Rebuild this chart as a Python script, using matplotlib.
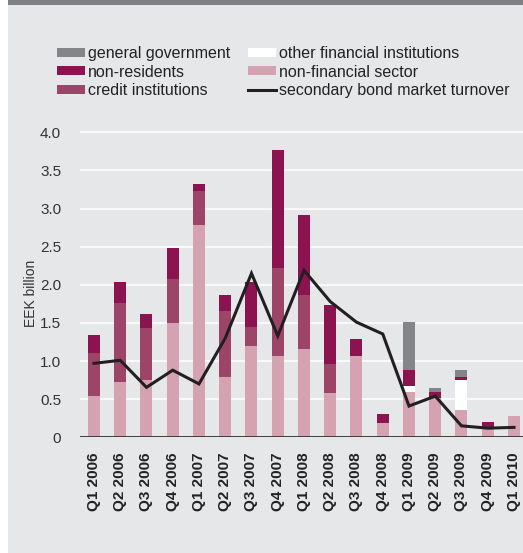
import matplotlib
matplotlib.use("Agg")
import numpy as np
import matplotlib.pyplot as plt
from matplotlib.patches import Patch, Rectangle
from matplotlib.lines import Line2D

plt.rcParams['font.family'] = ['Liberation Sans', 'DejaVu Sans']

# quarters
quarters = ["Q1 2006", "Q2 2006", "Q3 2006", "Q4 2006",
            "Q1 2007", "Q2 2007", "Q3 2007", "Q4 2007",
            "Q1 2008", "Q2 2008", "Q3 2008", "Q4 2008",
            "Q1 2009", "Q2 2009", "Q3 2009", "Q4 2009",
            "Q1 2010"]

# segments of the stacked bars, EEK billion
non_financial = [0.54, 0.725, 0.75, 1.50, 2.78, 0.79, 1.20, 1.07,
                 1.16, 0.58, 1.07, 0.19, 0.595, 0.515, 0.36, 0.135, 0.28]
other_financial = [0, 0, 0, 0, 0, 0, 0, 0,
                   0, 0, 0, 0, 0.075, 0, 0.39, 0, 0]
credit_inst = [0.565, 1.035, 0.68, 0.58, 0.45, 0.87, 0.25, 1.15,
               0.71, 0.38, 0, 0, 0, 0, 0, 0, 0]
non_residents = [0.235, 0.28, 0.19, 0.40, 0.09, 0.21, 0.59, 1.55,
                 1.05, 0.78, 0.22, 0.12, 0.21, 0.08, 0.04, 0.065, 0]
general_gov = [0, 0, 0, 0, 0, 0, 0, 0,
               0, 0, 0, 0, 0.63, 0.05, 0.09, 0, 0]

# line
turnover = [0.97, 1.01, 0.655, 0.88, 0.70, 1.30, 2.15, 1.33,
            2.19, 1.78, 1.51, 1.355, 0.41, 0.54, 0.15, 0.12, 0.13]

yticks = [0, 0.5, 1.0, 1.5, 2.0, 2.5, 3.0, 3.5, 4.0]
ytick_labels = ["0", "0.5", "1.0", "1.5", "2.0", "2.5", "3.0", "3.5", "4.0"]

bg = '#e6e7e9'
c_gov = '#848589'
c_nonres = '#8b1450'
c_credit = '#9d4569'
c_nonfin = '#d5a2b2'
c_other = '#ffffff'
c_line = '#231f20'

W, H = 523, 553
fig = plt.figure(figsize=(W / 100, H / 100), dpi=100)
fig.patch.set_facecolor(bg)

# white strip at left and gray band at top
fig.patches.append(Rectangle((0, 0), 8 / W, 1, transform=fig.transFigure,
                             facecolor='white', edgecolor='none', zorder=0))
fig.patches.append(Rectangle((8 / W, 1 - 5 / H), 1, 5 / H, transform=fig.transFigure,
                             facecolor='#808185', edgecolor='none', zorder=0))

y0 = 437.3
unit = 76.25
ymax = 4.05
ax_h = unit * ymax
ax = fig.add_axes([80 / W, (H - y0) / H, (W - 80) / W, ax_h / H])
ax.set_facecolor(bg)

x = np.arange(len(quarters))
bw = 0.457
bottom = np.zeros(len(quarters))
for vals, col in [(non_financial, c_nonfin), (other_financial, c_other),
                  (credit_inst, c_credit), (non_residents, c_nonres),
                  (general_gov, c_gov)]:
    v = np.array(vals)
    ax.bar(x, v, bw, bottom=bottom, color=col, zorder=3, linewidth=0)
    bottom += v

ax.plot(x, turnover, color=c_line, linewidth=2.2, zorder=4, solid_joinstyle='miter')

ax.set_xlim(-0.533, 16.343)
ax.set_ylim(0, ymax)
ax.set_yticks(yticks)
ax.set_yticklabels(ytick_labels)
for yt in yticks[1:]:
    ax.axhline(yt, color='white', linewidth=1.2, zorder=1)
ax.axhline(0, color='#333333', linewidth=1.3, zorder=5)

ax.set_xticks(x)
ax.set_xticklabels(quarters, rotation=90, fontsize=11, fontweight='bold', color='#222222')
ax.tick_params(axis='x', length=0, pad=11)
ax.tick_params(axis='y', length=0, pad=13.5, labelsize=11, labelcolor='#333333')
for s in ax.spines.values():
    s.set_visible(False)

fig.text(31 / W, 1 - 293 / H, "EEK billion", rotation=90, ha='center', va='center',
         fontsize=10, color='#333333')

handles = [Patch(facecolor=c_gov, edgecolor='none'),
           Patch(facecolor=c_nonres, edgecolor='none'),
           Patch(facecolor=c_credit, edgecolor='none'),
           Patch(facecolor=c_other, edgecolor='none'),
           Patch(facecolor=c_nonfin, edgecolor='none'),
           Line2D([0], [0], color=c_line, linewidth=2.2)]
labels = ["general government", "non-residents", "credit institutions",
          "other financial institutions", "non-financial sector",
          "secondary bond market turnover"]
fig.legend(handles, labels, ncol=2, loc='upper left',
           bbox_to_anchor=(57 / W, 1 - 46 / H), frameon=False,
           fontsize=11.5, handlelength=1.75, handleheight=0.5,
           handletextpad=0.2, columnspacing=1.1, labelspacing=0.22,
           borderpad=0, borderaxespad=0, labelcolor='#222222')

fig.savefig("out.png", dpi=100, facecolor=fig.get_facecolor())
